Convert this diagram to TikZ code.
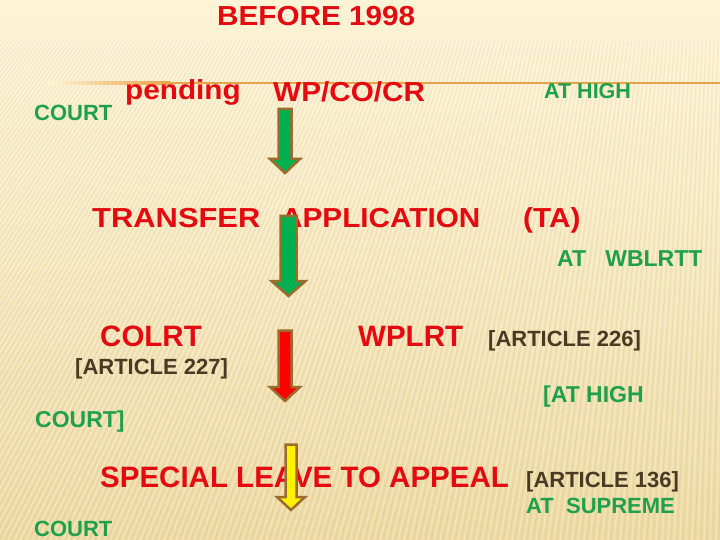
\documentclass[tikz,border=0pt]{standalone}
\usepackage{fontspec}
\setmainfont{Liberation Sans}
\definecolor{bgtop}{RGB}{254,244,214}
\definecolor{bgmid}{RGB}{250,235,192}
\definecolor{bgbot}{RGB}{237,217,162}
\definecolor{headred}{RGB}{228,10,16}
\definecolor{courtgreen}{RGB}{30,160,76}
\definecolor{artbrown}{RGB}{74,58,36}
\definecolor{rulegold}{RGB}{232,164,72}
\definecolor{arrowrim}{RGB}{156,108,44}
\definecolor{arrowgreen}{RGB}{0,176,80}

\begin{document}
\begin{tikzpicture}[x=1pt,y=-1pt,
  every node/.style={inner sep=0pt,anchor=base west},
  head/.style={text=headred,font=\bfseries\fontsize{27.5}{30}\selectfont,xscale=1.08},
  big/.style={text=headred,font=\bfseries\fontsize{29.5}{32}\selectfont},
  court/.style={text=courtgreen,font=\bfseries\fontsize{22}{24}\selectfont},
  article/.style={text=artbrown,font=\bfseries\fontsize{22}{24}\selectfont},
  blockarrow/.style={draw=arrowrim,line width=2.5pt,line join=miter}]
  \useasboundingbox (0,0) rectangle (720,540);
  % background with the faint stripes
  \shade[top color=bgtop,middle color=bgmid,bottom color=bgbot] (0,0) rectangle (720,540);
  \begin{scope}
    \clip (0,42) rectangle (720,540);
    \foreach \xb in {-400,-394,...,760}
      \draw[white,opacity=0.25,line width=1.5pt] (750,-900) -- (\xb,540);
    \foreach \xb in {-397,-391,...,760}
      \draw[arrowrim,opacity=0.07,line width=1pt] (750,-900) -- (\xb,540);
  \end{scope}
  \shade[left color=bgtop,right color=rulegold] (47,82) rectangle (170,84.5);
  \fill[rulegold] (170,82) rectangle (720,84.5);

  \node[head] (before) at (217,26) {BEFORE 1998};
  \node[court] (court1) at (34,121) {COURT};
  \node[head] (pending) at (125,100) {pending};
  \node[head] (wp) at (273,102) {WP/CO/CR};
  \node[court,font=\bfseries\fontsize{21.5}{24}\selectfont] (athigh1) at (544,99) {AT HIGH};

  \node[head,xscale=1.04] (transfer) at (92,228) {TRANSFER};
  \node[head] (application) at (281,228) {APPLICATION};
  \node[head] (ta) at (523,228) {(TA)};
  \node[court,font=\bfseries\fontsize{23}{24}\selectfont] (wblrtt) at (557,266) {AT\ \ \ WBLRTT};

  \node[big] (colrt) at (100,346) {COLRT};
  \node[big] (wplrt) at (358,346) {WPLRT};
  \node[article] (art226) at (488,346) {[ARTICLE 226]};
  \node[article] (art227) at (75,374) {[ARTICLE 227]};
  \node[court,font=\bfseries\fontsize{23}{24}\selectfont] (athigh2) at (543,402) {[AT HIGH};
  \node[court,font=\bfseries\fontsize{23}{24}\selectfont] (court2) at (35,427) {COURT]};

  \node[big] (slp) at (100,487) {SPECIAL LEAVE TO APPEAL};
  \node[article] (art136) at (526,487) {[ARTICLE 136]};
  \node[court] (supreme) at (526,513) {AT\ \ SUPREME};
  \node[court] (court3) at (34,536.5) {COURT};

  % block arrows
  \draw[blockarrow,fill=arrowgreen] (278.5,109) -- (291.5,109) -- (291.5,159) -- (300,159)
    -- (285,173) -- (270,159) -- (278.5,159) -- cycle;
  \draw[blockarrow,fill=arrowgreen] (280.5,216) -- (296.5,216) -- (296.5,281) -- (305.5,281)
    -- (288.5,296) -- (271.5,281) -- (280.5,281) -- cycle;
  \draw[blockarrow,fill=red] (278.5,330.5) -- (291.5,330.5) -- (291.5,387) -- (300,387)
    -- (285,401) -- (270,387) -- (278.5,387) -- cycle;
  \draw[blockarrow,fill=yellow] (285.5,444.5) -- (296.5,444.5) -- (296.5,497) -- (305,497)
    -- (291,510) -- (277,497) -- (285.5,497) -- cycle;
\end{tikzpicture}
\end{document}
